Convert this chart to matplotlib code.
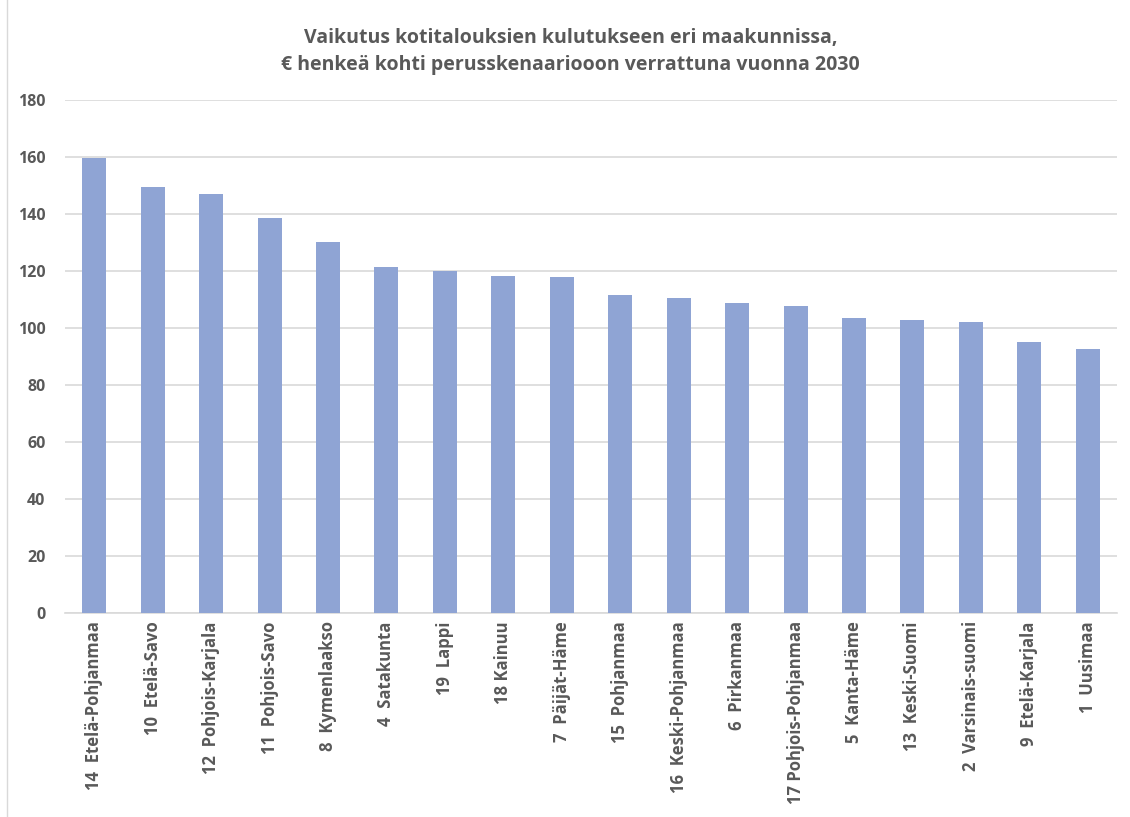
import numpy as np
import matplotlib.pyplot as plt
from matplotlib.lines import Line2D

# Maakunnat ja arvot (€ / henkilö, 2030)
regions = ["14  Etelä-Pohjanmaa", "10  Etelä-Savo", "12  Pohjois-Karjala", "11  Pohjois-Savo",
           "8  Kymenlaakso", "4  Satakunta", "19  Lappi", "18 Kainuu", "7  Päijät-Häme",
           "15  Pohjanmaa", "16  Keski-Pohjanmaa", "6  Pirkanmaa", "17 Pohjois-Pohjanmaa",
           "5  Kanta-Häme", "13  Keski-Suomi", "2  Varsinais-suomi", "9  Etelä-Karjala", "1  Uusimaa"]
values = [159.5, 149.5, 147.0, 138.7, 130.2, 121.5, 119.9, 118.1, 118.0,
          111.6, 110.5, 108.7, 107.6, 103.4, 102.7, 102.2, 95.1, 92.6]
yticks = [0, 20, 40, 60, 80, 100, 120, 140, 160, 180]

title = "Vaikutus kotitalouksien kulutukseen eri maakunnissa,\n€ henkeä kohti perusskenaariooon verrattuna vuonna 2030"

plt.rcParams['font.family'] = ['Open Sans', 'DejaVu Sans']
txt = '#595959'

fig = plt.figure(figsize=(11.3, 8.17), dpi=100)
ax = fig.add_axes([0.0575, 0.2497, 0.931, 0.6279])

x = np.arange(len(regions))
ax.bar(x, values, width=0.41, color='#8FA4D4', zorder=3)

ax.set_xlim(-0.5, len(regions) - 0.5)
ax.set_ylim(0, 180)
ax.set_yticks(yticks)
ax.set_yticklabels([str(v) for v in yticks], fontsize=11.5, fontweight='bold', color=txt)
ax.set_xticks(x)
ax.set_xticklabels(regions, rotation=90, fontsize=12, fontweight='bold', color=txt)

ax.grid(axis='y', color='#D9D9D9', linewidth=1.2, zorder=0)
for s in ['top', 'right', 'left']:
    ax.spines[s].set_visible(False)
ax.spines['bottom'].set_color('#D9D9D9')
ax.spines['bottom'].set_linewidth(1.2)
ax.tick_params(axis='both', length=0)
ax.tick_params(axis='y', pad=14)
ax.tick_params(axis='x', pad=6)

# kaavion reunaviiva vasemmalla
fig.add_artist(Line2D([0.0065, 0.0065], [0.0, 1.0], transform=fig.transFigure,
                      color='#D9D9D9', linewidth=1))

fig.text(0.505, 0.966, title, ha='center', va='top', fontsize=14, fontweight='bold',
         color=txt, linespacing=1.45)

fig.savefig('out.png', dpi=100, facecolor='white')
